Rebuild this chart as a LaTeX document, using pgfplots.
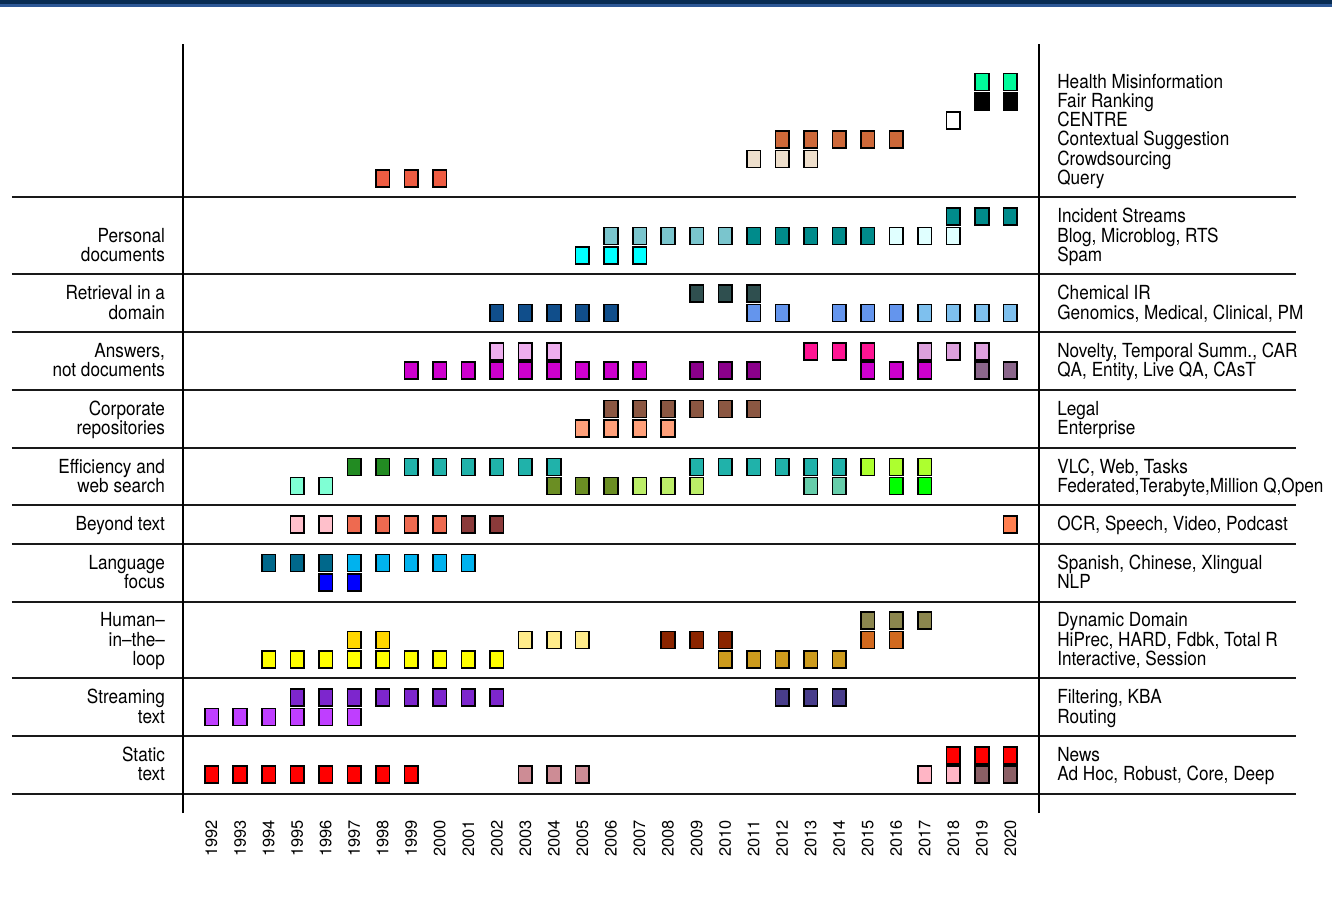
\documentclass[border=0pt]{standalone}
\usepackage{pgfplots}
\pgfplotsset{compat=1.18}
\usepackage{fontspec}
\setmainfont{TeX Gyre Heros}
\definecolor{navy1}{HTML}{082C52}
\definecolor{navy2}{HTML}{2D5896}
\newcommand\sq[2]{\definecolor{c#1}{HTML}{#1}\addplot[only marks, mark=square*, mark size=3.4pt, mark options={draw=black, line width=0.8pt, fill=c#1, yscale=1.25}] coordinates {#2};}
\newcommand\rl[2]{\node[anchor=base west, yshift=-3.1pt, inner sep=0pt, xscale=0.885, font=\fontsize{9.7}{10}\selectfont] at (axis cs:2021.63,#1) {#2};}
\newcommand\lftl[2]{\node[anchor=base east, yshift=-3.1pt, inner sep=0pt, xscale=0.885, font=\fontsize{9.7}{10}\selectfont] at (axis cs:1990.38,#1) {#2};}
\begin{document}
\begin{tikzpicture}
\begin{axis}[
  scale only axis, width=428pt, height=384.8pt,
  xmin=1991, xmax=2021, ymin=-1, ymax=39,
  clip=false,
  axis line style={draw=none},
  ytick=\empty,
  xtick={1992,...,2020},
  major tick length=0pt,
  xticklabel style={rotate=90, anchor=east, font=\fontsize{8.2}{9}\selectfont, /pgf/number format/1000 sep={}, /pgf/number format/assume math mode=true},
]
% frame, separators
\pgfplotsinvokeforeach{0,3,6,10,13,15,18,21,24,27,31}{\draw[line width=1pt, black!90] (axis cs:1985,#1) -- (axis cs:2030,#1);}
\draw[line width=1pt] (axis cs:1991,-1) -- (axis cs:1991,39);
\draw[line width=1pt] (axis cs:2021,-1) -- (axis cs:2021,39);
\coordinate (bbsw) at (axis cs:1984.586,-5.719);
\coordinate (bbne) at (axis cs:2031.269,41.266);
\fill[navy2] (axis cs:1984.586,40.90) rectangle (axis cs:2031.269,41.266);
\fill[navy1] (axis cs:1984.586,41.058) rectangle (axis cs:2031.269,41.266);
% top group
\sq{00FA9A}{(2019,37) (2020,37)}
\sq{000000}{(2019,36) (2020,36)}
\sq{FFFFFF}{(2018,35)}
\sq{CD6839}{(2012,34) (2013,34) (2014,34) (2015,34) (2016,34)}
\sq{EEDFCC}{(2011,33) (2012,33) (2013,33)}
\sq{EE5C42}{(1998,32) (1999,32) (2000,32)}
% personal
\sq{008B8B}{(2018,30) (2019,30) (2020,30)}
\sq{7AC5CD}{(2006,29) (2007,29) (2008,29) (2009,29) (2010,29)}
\sq{008B8B}{(2011,29) (2012,29) (2013,29) (2014,29) (2015,29)}
\sq{E0FFFF}{(2016,29) (2017,29) (2018,29)}
\sq{00FFFF}{(2005,28) (2006,28) (2007,28)}
% domain
\sq{2F4F4F}{(2009,26) (2010,26) (2011,26)}
\sq{104E8B}{(2002,25) (2003,25) (2004,25) (2005,25) (2006,25)}
\sq{6495ED}{(2011,25) (2012,25) (2014,25) (2015,25) (2016,25)}
\sq{7EC0EE}{(2017,25) (2018,25) (2019,25) (2020,25)}
% answers
\sq{EEAEEE}{(2002,23) (2003,23) (2004,23)}
\sq{FF1493}{(2013,23) (2014,23) (2015,23)}
\sq{DDA0DD}{(2017,23) (2018,23) (2019,23)}
\sq{CD00CD}{(1999,22) (2000,22) (2001,22) (2002,22) (2003,22) (2004,22) (2005,22) (2006,22) (2007,22)}
\sq{8B008B}{(2009,22) (2010,22) (2011,22)}
\sq{CD00CD}{(2015,22) (2016,22) (2017,22)}
\sq{8B668B}{(2019,22) (2020,22)}
% corporate
\sq{8B5742}{(2006,20) (2007,20) (2008,20) (2009,20) (2010,20) (2011,20)}
\sq{FFA07A}{(2005,19) (2006,19) (2007,19) (2008,19)}
% efficiency
\sq{228B22}{(1997,17) (1998,17)}
\sq{20B2AA}{(1999,17) (2000,17) (2001,17) (2002,17) (2003,17) (2004,17)}
\sq{20B2AA}{(2009,17) (2010,17) (2011,17) (2012,17) (2013,17) (2014,17)}
\sq{ADFF2F}{(2015,17) (2016,17) (2017,17)}
\sq{7FFFD4}{(1995,16) (1996,16)}
\sq{6B8E23}{(2004,16) (2005,16) (2006,16)}
\sq{BCEE68}{(2007,16) (2008,16) (2009,16)}
\sq{66CDAA}{(2013,16) (2014,16)}
\sq{00FF00}{(2016,16) (2017,16)}
% beyond text
\sq{FFC0CB}{(1995,14) (1996,14)}
\sq{EE6A50}{(1997,14) (1998,14) (1999,14) (2000,14)}
\sq{8B3A3A}{(2001,14) (2002,14)}
\sq{FF7F50}{(2020,14)}
% language
\sq{00688B}{(1994,12) (1995,12) (1996,12)}
\sq{00B2EE}{(1997,12) (1998,12) (1999,12) (2000,12) (2001,12)}
\sq{0000FF}{(1996,11) (1997,11)}
% human in the loop
\sq{8B864E}{(2015,9) (2016,9) (2017,9)}
\sq{FFD700}{(1997,8) (1998,8)}
\sq{FFEC8B}{(2003,8) (2004,8) (2005,8)}
\sq{8B2500}{(2008,8) (2009,8) (2010,8)}
\sq{D2691E}{(2015,8) (2016,8)}
\sq{FFFF00}{(1994,7) (1995,7) (1996,7) (1997,7) (1998,7) (1999,7) (2000,7) (2001,7) (2002,7)}
\sq{CD9B1D}{(2010,7) (2011,7) (2012,7) (2013,7) (2014,7)}
% streaming
\sq{7D26CD}{(1995,5) (1996,5) (1997,5) (1998,5) (1999,5) (2000,5) (2001,5) (2002,5)}
\sq{483D8B}{(2012,5) (2013,5) (2014,5)}
\sq{BF3EFF}{(1992,4) (1993,4) (1994,4) (1995,4) (1996,4) (1997,4)}
% static
\sq{FF0000}{(2018,2) (2019,2) (2020,2)}
\sq{FF0000}{(1992,1) (1993,1) (1994,1) (1995,1) (1996,1) (1997,1) (1998,1) (1999,1)}
\sq{CD8C95}{(2003,1) (2004,1) (2005,1)}
\sq{FFB5C5}{(2017,1) (2018,1)}
\sq{8B5F65}{(2019,1) (2020,1)}
% right labels
\rl{37}{Health Misinformation}
\rl{36}{Fair Ranking}
\rl{35}{CENTRE}
\rl{34}{Contextual Suggestion}
\rl{33}{Crowdsourcing}
\rl{32}{Query}
\rl{30}{Incident Streams}
\rl{29}{Blog, Microblog, RTS}
\rl{28}{Spam}
\rl{26}{Chemical IR}
\rl{25}{Genomics, Medical, Clinical, PM}
\rl{23}{Novelty, Temporal Summ., CAR}
\rl{22}{QA, Entity, Live QA, CAsT}
\rl{20}{Legal}
\rl{19}{Enterprise}
\rl{17}{VLC, Web, Tasks}
\rl{16}{Federated,Terabyte,Million Q,Open}
\rl{14}{OCR, Speech, Video, Podcast}
\rl{12}{Spanish, Chinese, Xlingual}
\rl{11}{NLP}
\rl{9}{Dynamic Domain}
\rl{8}{HiPrec, HARD, Fdbk, Total R}
\rl{7}{Interactive, Session}
\rl{5}{Filtering, KBA}
\rl{4}{Routing}
\rl{2}{News}
\rl{1}{Ad Hoc, Robust, Core, Deep}
% left labels
\lftl{29}{Personal}
\lftl{28}{documents}
\lftl{26}{Retrieval in a}
\lftl{25}{domain}
\lftl{23}{Answers,}
\lftl{22}{not documents}
\lftl{20}{Corporate}
\lftl{19}{repositories}
\lftl{17}{Efficiency and}
\lftl{16}{web search}
\lftl{14}{Beyond text}
\lftl{12}{Language}
\lftl{11}{focus}
\lftl{9}{Human--}
\lftl{8}{in--the--}
\lftl{7}{loop}
\lftl{5}{Streaming}
\lftl{4}{text}
\lftl{2}{Static}
\lftl{1}{text}
\end{axis}
\pgfresetboundingbox
\path[use as bounding box] (bbsw) rectangle (bbne);
\end{tikzpicture}
\end{document}
